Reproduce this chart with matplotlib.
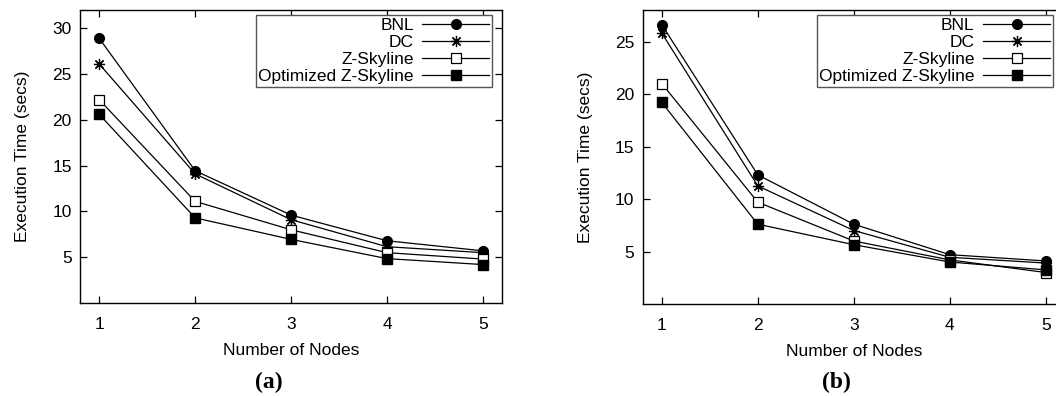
import matplotlib
matplotlib.use('Agg')
import matplotlib.pyplot as plt

plt.rcParams['font.family'] = ['Liberation Sans', 'DejaVu Sans']

nodes = [1, 2, 3, 4, 5]
labels = ['BNL', 'DC', 'Z-Skyline', 'Optimized Z-Skyline']

# panel (a)
bnl_a = [28.9, 14.45, 9.6, 6.8, 5.7]
dc_a = [26.1, 14.1, 9.1, 6.15, 5.5]
zsky_a = [22.2, 11.1, 8.0, 5.5, 4.8]
ozsky_a = [20.6, 9.3, 6.95, 4.85, 4.2]

# panel (b)
bnl_b = [26.6, 12.3, 7.6, 4.7, 4.1]
dc_b = [25.8, 11.25, 7.0, 4.45, 3.9]
zsky_b = [21.0, 9.7, 6.0, 4.2, 3.0]
ozsky_b = [19.2, 7.6, 5.65, 4.0, 3.25]

fig = plt.figure(figsize=(10.56, 3.96), dpi=100)
fs = 12.5

styles = [
    dict(marker='o', markersize=7, markerfacecolor='black'),
    dict(marker=(8, 2, 0), markersize=8, markeredgewidth=0.9),
    dict(marker='s', markersize=6.5, markerfacecolor='white', markeredgewidth=0.9),
    dict(marker='s', markersize=6.5, markerfacecolor='black'),
]


def panel(rect, series, ylim, yticks, caption, cap_x, leg_anchor, leg_loc):
    ax = fig.add_axes(rect)
    for vals, lab, st in zip(series, labels, styles):
        ax.plot(nodes, vals, color='black', linewidth=0.9, label=lab,
                markeredgecolor='black', **st)
    ax.set_xlim(0.8, 5.2)
    ax.set_ylim(*ylim)
    ax.set_xticks(nodes)
    ax.set_yticks(yticks)
    ax.tick_params(direction='in', top=True, right=True, length=5, width=0.9,
                   labelsize=fs)
    ax.tick_params(axis='x', pad=10)
    ax.tick_params(axis='y', pad=6)
    for s in ax.spines.values():
        s.set_linewidth(1.0)
    ax.set_xlabel('Number of Nodes', fontsize=fs, labelpad=8)
    ax.set_ylabel('Execution Time (secs)', fontsize=fs, labelpad=16)
    leg = ax.legend(loc=leg_loc, bbox_to_anchor=leg_anchor, markerfirst=False,
                    fancybox=False, framealpha=1, edgecolor='#555555',
                    fontsize=fs, handlelength=3.85, labelspacing=0.12,
                    borderpad=0.15, handletextpad=0.5, borderaxespad=0)
    leg.get_frame().set_linewidth(1.0)
    fig.text(cap_x, 0.033, caption, ha='center', va='center', fontsize=17,
             fontweight='bold', family='Liberation Serif')
    return ax


panel([0.0758, 0.2348, 0.3996, 0.74], [bnl_a, dc_a, zsky_a, ozsky_a],
      (0, 32), [5, 10, 15, 20, 25, 30], '(a)', 0.2547,
      (0.976, 0.983), 'upper right')
panel([0.6085, 0.2323, 0.4, 0.7424], [bnl_b, dc_b, zsky_b, ozsky_b],
      (0, 28), [5, 10, 15, 20, 25], '(b)', 0.7917,
      (0.412, 0.983), 'upper left')

fig.savefig('out.png', dpi=100)
